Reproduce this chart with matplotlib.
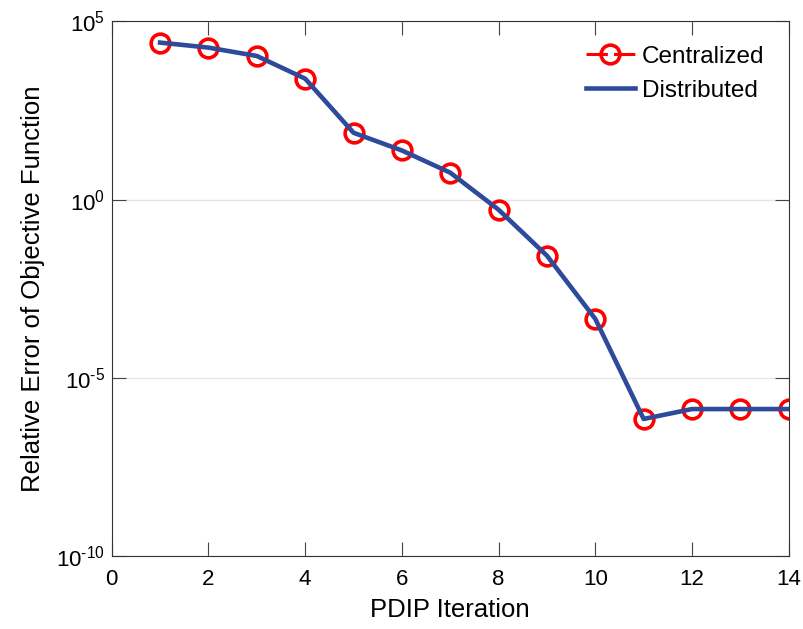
import matplotlib
matplotlib.use("Agg")
import matplotlib.pyplot as plt
from matplotlib.ticker import NullLocator, FixedFormatter

plt.rcParams['font.family'] = ['Liberation Sans', 'DejaVu Sans']
plt.rcParams['mathtext.fontset'] = 'custom'
plt.rcParams['mathtext.rm'] = 'Liberation Sans'
plt.rcParams['mathtext.it'] = 'Liberation Sans:italic'
plt.rcParams['mathtext.bf'] = 'Liberation Sans:bold'
plt.rcParams['axes.unicode_minus'] = False

# datos
iteracion = [1, 2, 3, 4, 5, 6, 7, 8, 9, 10, 11, 12, 13, 14]
centralizado = [2.54e4, 1.84e4, 1.07e4, 2.47e3, 75, 23.9, 5.7, 0.52,
                0.0267, 4.5e-4, 7.0e-7, 1.33e-6, 1.33e-6, 1.33e-6]
distribuido = [2.54e4, 1.84e4, 1.07e4, 2.47e3, 75, 23.9, 5.7, 0.52,
               0.0267, 4.5e-4, 7.0e-7, 1.33e-6, 1.33e-6, 1.33e-6]
xticks = [0, 2, 4, 6, 8, 10, 12, 14]
yticks = [1e-10, 1e-5, 1e0, 1e5]
yticklabels = [r'$10^{\text{-}10}$', r'$10^{\text{-}5}$', r'$10^{0}$',
               r'$10^{5}$']

fig = plt.figure(figsize=(8.04, 6.29), dpi=100)
ax = fig.add_axes([0.139, 0.116, 0.842, 0.850])

ax.semilogy(iteracion, centralizado, 'o', ls=(0, (7, 2)), color='#FF0000',
            lw=2.2, ms=13.5, mew=2.6, mfc='none', label='Centralized')
ax.semilogy(iteracion, distribuido, '-', color='#2E4A9A', lw=3.3,
            label='Distributed')

ax.set_xlim(0, 14)
ax.set_ylim(1e-10, 1e5)
ax.set_xticks(xticks)
ax.set_yticks(yticks)
ax.yaxis.set_major_formatter(FixedFormatter(yticklabels))
ax.yaxis.set_minor_locator(NullLocator())
ax.grid(True, axis='y', color='#E6E6E6', lw=1)
ax.set_axisbelow(True)
ax.tick_params(direction='in', top=True, right=True, labelsize=16,
               length=10, width=0.8, color='#444444')
ax.tick_params(axis='x', pad=9)
ax.tick_params(axis='y', pad=5)
for s in ax.spines.values():
    s.set_color('#333333')
    s.set_linewidth(0.8)

ax.set_xlabel('PDIP Iteration', fontsize=18.5, labelpad=6)
ax.set_ylabel('Relative Error of Objective Function', fontsize=18.5,
              labelpad=8)
ax.legend(loc='upper right', frameon=False, fontsize=17.5, handlelength=2.0,
          handletextpad=0.3, borderaxespad=0.6, labelspacing=0.5)

plt.savefig('out.png', dpi=100)
